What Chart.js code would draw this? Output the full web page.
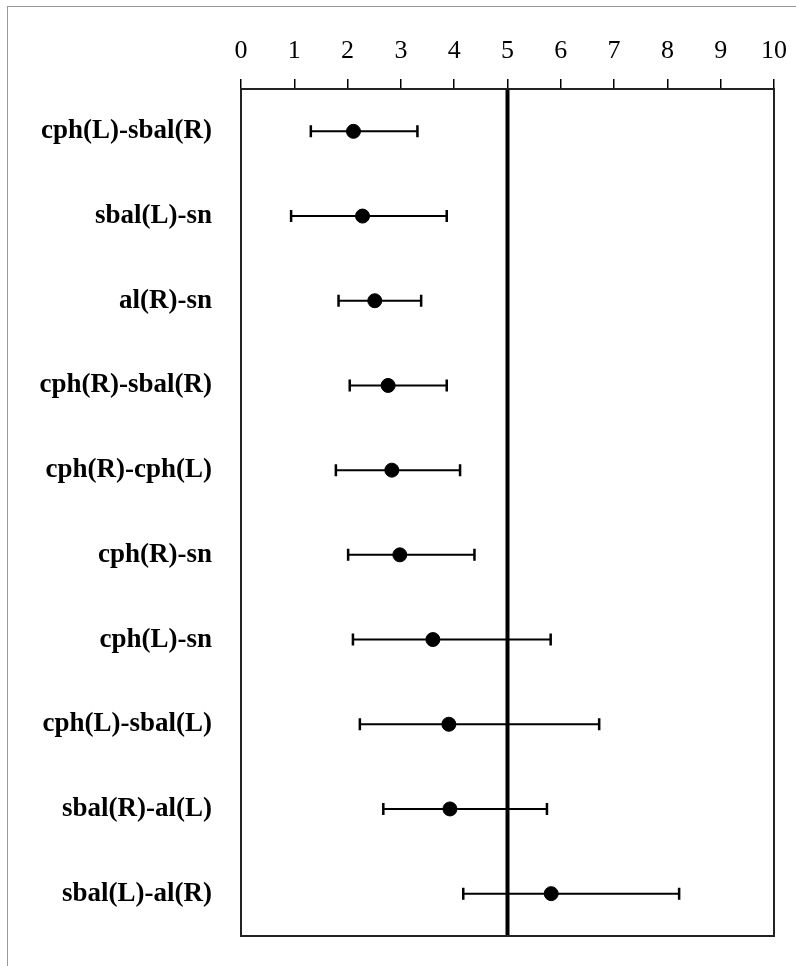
<!DOCTYPE html>
<html>
<head>
<meta charset="utf-8">
<script src="https://cdn.jsdelivr.net/npm/chart.js@4.4.1/dist/chart.umd.min.js"></script>
<style>
  html, body { margin: 0; padding: 0; background: #fff; overflow: hidden; }
  #wrap { position: relative; width: 796px; height: 966px; }
  #frame {
    position: absolute; left: 7px; top: 6px; right: 0; bottom: 0;
    border-left: 1px solid #999; border-top: 1px solid #999;
    pointer-events: none;
  }
</style>
</head>
<body>
<div id="wrap">
  <canvas id="chart" width="796" height="966"></canvas>
  <div id="frame"></div>
</div>
<script>
// values
const categories = [
    "cph(L)-sbal(R)", "sbal(L)-sn", "al(R)-sn", "cph(R)-sbal(R)", "cph(R)-cph(L)",
    "cph(R)-sn", "cph(L)-sn", "cph(L)-sbal(L)", "sbal(R)-al(L)", "sbal(L)-al(R)"
];
const means  = [2.11, 2.28, 2.51, 2.76, 2.83, 2.98, 3.60, 3.90, 3.92, 5.82];
const lowers = [1.31, 0.94, 1.83, 2.04, 1.78, 2.01, 2.10, 2.23, 2.67, 4.17];
const uppers = [3.31, 3.86, 3.38, 3.86, 4.11, 4.38, 5.81, 6.72, 5.74, 8.22];
const xMin = 0;
const xMax = 10;
const refValue = 5;

const serif = "'Liberation Serif', 'DejaVu Serif', serif";

// whiskers + the reference line, drawn under the dots
const whiskerPlugin = {
    id: "whiskers",
    beforeDatasetsDraw(chart) {
        const ctx = chart.ctx;
        const xs = chart.scales.x;
        const ys = chart.scales.y;
        const area = chart.chartArea;
        ctx.save();
        ctx.strokeStyle = "#000";
        categories.forEach((cat, i) => {
            const y = ys.getPixelForValue(i);
            const x1 = xs.getPixelForValue(lowers[i]);
            const x2 = xs.getPixelForValue(uppers[i]);
            ctx.lineWidth = 2;
            ctx.beginPath();
            ctx.moveTo(x1, y);
            ctx.lineTo(x2, y);
            ctx.stroke();
            ctx.lineWidth = 2.5;
            ctx.beginPath();
            ctx.moveTo(x1, y - 6);
            ctx.lineTo(x1, y + 6);
            ctx.moveTo(x2, y - 6);
            ctx.lineTo(x2, y + 6);
            ctx.stroke();
        });
        // reference line
        const xr = xs.getPixelForValue(refValue);
        ctx.lineWidth = 4;
        ctx.beginPath();
        ctx.moveTo(xr, area.top);
        ctx.lineTo(xr, area.bottom);
        ctx.stroke();
        ctx.restore();
    },
    afterDraw(chart) {
        const ctx = chart.ctx;
        const a = chart.chartArea;
        ctx.save();
        ctx.strokeStyle = "#222";
        ctx.lineWidth = 2;
        ctx.strokeRect(a.left, a.top, a.right - a.left, a.bottom - a.top);
        ctx.restore();
    }
};

new Chart(document.getElementById("chart"), {
    type: "scatter",
    data: {
        datasets: [{
            data: categories.map((c, i) => ({ x: means[i], y: i })),
            backgroundColor: "#000",
            borderColor: "#000",
            pointRadius: 7,
            pointHoverRadius: 7
        }]
    },
    options: {
        responsive: false,
        animation: false,
        layout: { padding: { left: 0, top: 0, right: 22, bottom: 30 } },
        plugins: {
            legend: { display: false },
            tooltip: { enabled: false }
        },
        scales: {
            x: {
                type: "linear",
                position: "top",
                min: xMin,
                max: xMax,
                ticks: {
                    stepSize: 1,
                    color: "#000",
                    padding: 12,
                    font: { family: serif, size: 26 }
                },
                grid: {
                    drawOnChartArea: false,
                    drawTicks: true,
                    tickLength: 10,
                    color: "#000",
                    lineWidth: 1.5
                },
                border: { display: true, color: "#000", width: 2 },
                afterFit: (axis) => {
                    axis.height = 89;
                    axis.paddingLeft = 0;
                    axis.paddingRight = 0;
                }
            },
            y: {
                type: "category",
                labels: categories,
                offset: true,
                ticks: {
                    color: "#000",
                    padding: 29,
                    font: { family: serif, size: 27, weight: "bold" }
                },
                grid: { display: false, drawTicks: false },
                border: { display: false },
                afterFit: (axis) => {
                    axis.width = 241;
                    axis.paddingTop = 0;
                    axis.paddingBottom = 0;
                }
            }
        }
    },
    plugins: [whiskerPlugin]
});
</script>
</body>
</html>
